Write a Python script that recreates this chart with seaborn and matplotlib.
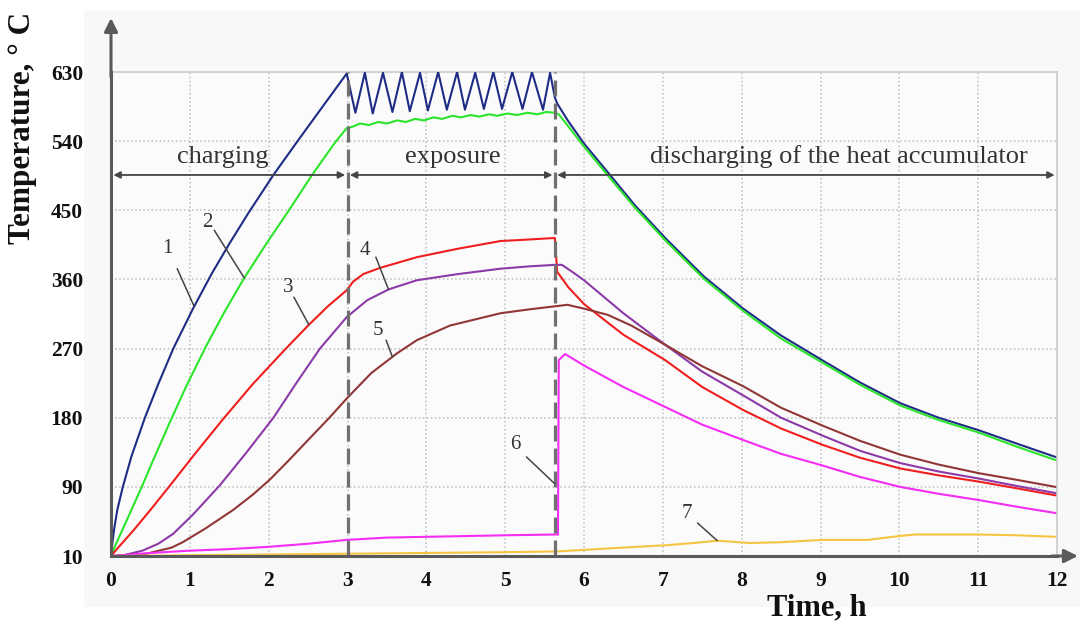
import numpy as np
import pandas as pd
import matplotlib
matplotlib.use('Agg')
import matplotlib.pyplot as plt
from matplotlib.patches import Rectangle
import seaborn as sns

# ── Data ──────────────────────────────────────────────
x_ticks = list(range(0, 13))
y_tick_pos = [0, 90, 180, 270, 360, 450, 540, 630]
y_tick_labels = ['10', '90', '180', '270', '360', '450', '540', '630']

phase_edges = [0, 3, 5.63, 12]
phase_names = ['charging', 'exposure', 'discharging of the heat accumulator']
phase_text_x = [1.42, 4.34, 9.23]

t1 = [0, 0.015, 0.04, 0.08, 0.15, 0.26, 0.43, 0.6, 0.79, 1.04, 1.28, 1.51, 1.74, 2.06, 2.38,
      2.72, 2.99,
      3.10, 3.22, 3.32, 3.45, 3.57, 3.69, 3.79, 3.92, 4.02, 4.15, 4.26, 4.39, 4.49, 4.62,
      4.73, 4.85, 4.96, 5.09, 5.22, 5.34, 5.48, 5.57, 5.63, 5.66, 5.8, 6.0, 6.33, 6.65,
      7.03, 7.52, 8.02, 8.5, 9.02, 9.5, 10.01, 10.5, 11.0, 11.5, 11.98]
T1 = [0, 15, 35, 60, 90, 130, 180, 224, 270, 322, 368, 408, 446, 496, 542,
      590, 628,
      577, 629, 576, 629, 578, 630, 579, 629, 580, 630, 581, 630, 581, 629,
      582, 630, 582, 630, 582, 630, 581, 629, 597, 589, 566, 537, 496, 456,
      414, 364, 322, 287, 255, 226, 199, 180, 164, 146, 129]

t2 = [0, 0.06, 0.18, 0.39, 0.54, 0.75, 0.95, 1.2, 1.43, 1.69, 1.98, 2.27, 2.55, 2.84, 2.99,
      3.07, 3.16, 3.27, 3.39, 3.5, 3.63, 3.74, 3.86, 3.97, 4.09, 4.2, 4.33, 4.44, 4.56,
      4.67, 4.8, 4.9, 5.03, 5.15, 5.28, 5.41, 5.52, 5.63, 5.68, 6.0, 6.33, 6.65, 7.03,
      7.52, 8.02, 8.5, 9.02, 9.5, 10.01, 10.5, 11.0, 11.5, 11.98]
T2 = [0, 15, 42, 90, 126, 175, 220, 272, 316, 362, 408, 452, 496, 538, 557,
      559, 563, 561, 565, 563, 567, 565, 569, 567, 571, 569, 573, 571, 574,
      572, 575, 573, 576, 574, 577, 575, 578, 577, 575, 533, 492, 453, 411,
      361, 319, 283, 252, 223, 196, 177, 161, 142, 125]

t3 = [0, 0.1, 0.29, 0.5, 0.75, 1.08, 1.42, 1.8, 2.2, 2.5, 2.75, 2.99, 3.07, 3.2, 3.41, 3.88,
      4.4, 4.94, 5.3, 5.63, 5.66, 5.8, 6.0, 6.5, 7.03, 7.5, 8.02, 8.5, 9.02, 9.5, 10.01,
      10.5, 11.0, 11.5, 11.98]
T3 = [0, 12, 34, 60, 92, 135, 178, 224, 268, 300, 325, 346, 357, 367, 375, 389,
      400, 410, 412, 414, 370, 350, 328, 288, 255, 220, 190, 166, 145, 128, 114,
      105, 97, 88, 79]

t4 = [0, 0.12, 0.4, 0.6, 0.79, 1.04, 1.38, 1.72, 2.06, 2.35, 2.65, 2.99, 3.25, 3.52, 3.88,
      4.4, 4.94, 5.3, 5.63, 5.72, 5.85, 6.0, 6.5, 7.03, 7.5, 8.02, 8.5, 9.02, 9.5, 10.01,
      10.5, 11.0, 11.5, 11.98]
T4 = [0, 0, 7, 16, 29, 54, 92, 135, 180, 225, 270, 311, 333, 347, 359,
      367, 374, 377, 379, 379, 370, 359, 316, 275, 240, 209, 180, 157, 137, 121,
      110, 101, 91, 82]

t5 = [0, 0.45, 0.77, 0.91, 1.2, 1.55, 1.8, 2.02, 2.25, 2.5, 2.77, 2.99, 3.3, 3.63, 3.88, 4.3,
      4.94, 5.3, 5.79, 6.0, 6.3, 6.6, 7.03, 7.5, 8.02, 8.5, 9.02, 9.5, 10.01, 10.5, 11.0,
      11.5, 11.98]
T5 = [0, 3, 11, 18, 36, 60, 80, 100, 124, 151, 180, 205, 238, 264, 281, 300,
      316, 321, 327, 322, 314, 300, 275, 247, 221, 193, 170, 150, 132, 119, 108,
      99, 90]

t6 = [0, 0.5, 1.0, 1.5, 2.0, 2.5, 2.99, 3.5, 4.0, 4.5, 5.0, 5.63, 5.67, 5.68, 5.76, 6.0,
      6.5, 7.03, 7.5, 8.02, 8.5, 9.02, 9.5, 10.01, 10.5, 11.0, 11.5, 11.98]
T6 = [0, 4, 7, 9, 12, 16, 21, 24, 25, 26, 27, 28, 28, 255, 263, 248,
      220, 194, 171, 151, 133, 118, 103, 90, 81, 73, 64, 56]

t7 = [0, 1, 2, 3, 4, 5, 5.66, 6.0, 6.5, 7.03, 7.4, 7.69, 8.1, 8.5, 9.02, 9.6, 10.0, 10.2,
      11.0, 11.5, 11.98]
T7 = [0, 1, 2, 3, 4, 5, 6, 8, 11, 14, 17, 20, 17, 18, 21, 21, 26, 28,
      28, 27, 25]

series = [
    ('1', t1, T1, '#1f2c86'),
    ('2', t2, T2, '#2be52b'),
    ('3', t3, T3, '#f01e1e'),
    ('4', t4, T4, '#8c3aa8'),
    ('5', t5, T5, '#913636'),
    ('6', t6, T6, '#f52cf5'),
    ('7', t7, T7, '#f5c542'),
]

# curve labels: (text, text_xy, leader_start, leader_end)
curve_labels = [
    ('1', (0.71, 400), (0.84, 374), (1.05, 326)),
    ('2', (1.22, 434), (1.31, 424), (1.69, 362)),
    ('3', (2.25, 350), (2.32, 337), (2.51, 301)),
    ('4', (3.22, 398), (3.36, 389), (3.52, 347)),
    ('5', (3.39, 294), (3.49, 281), (3.57, 259)),
    ('6', (5.13, 145), (5.27, 129), (5.63, 94)),
    ('7', (7.31, 56), (7.44, 43), (7.69, 20)),
]

# ── Style ─────────────────────────────────────────────
sns.set_style('white')
plt.rcParams['font.family'] = ['Liberation Serif', 'DejaVu Serif']

fig = plt.figure(figsize=(10.83, 6.28), dpi=100)
fig.patches.append(Rectangle((0.078, 0.033), 0.919, 0.951, transform=fig.transFigure,
                             facecolor='#f8f8f8', edgecolor='none', zorder=-10))
ax = fig.add_axes([111 / 1083, 0.1146, 946 / 1083, 0.7707])
ax.set_facecolor('#fbfbfb')

for name, t, T, col in series:
    df = pd.DataFrame({'t': t, 'T': T})
    sns.lineplot(data=df, x='t', y='T', ax=ax, color=col, lw=1.5,
                 estimator=None, sort=False, zorder=3, solid_joinstyle='round')

ax.set_xlim(0, 12)
ax.set_ylim(0, 630)
ax.set_xticks(x_ticks)
ax.set_xticklabels([str(v) for v in x_ticks])
ax.set_yticks(y_tick_pos)
ax.set_yticklabels(y_tick_labels)
ax.tick_params(axis='both', length=0, labelsize=15.5, colors='#111111')
ax.tick_params(axis='y', pad=20)
ax.tick_params(axis='x', pad=11)
for lab in ax.get_xticklabels() + ax.get_yticklabels():
    lab.set_fontweight('bold')
ax.set_xlabel('')
ax.set_ylabel('')

ax.grid(True, ls=':', color='#bdbdbd', lw=1.1)
ax.set_axisbelow(True)

for s in ['top', 'right']:
    ax.spines[s].set_color('#cfcfcf')
    ax.spines[s].set_linewidth(1.3)
for s in ['left', 'bottom']:
    ax.spines[s].set_color('#5a5a5a')
    ax.spines[s].set_linewidth(2.2)
    ax.spines[s].set_zorder(5)

# axis arrows
ax.annotate('', xy=(0, 704), xytext=(0, 620),
            arrowprops=dict(arrowstyle='-|>', color='#5a5a5a', lw=2.2, mutation_scale=20),
            annotation_clip=False)
ax.annotate('', xy=(12.3, 0), xytext=(11.9, 0),
            arrowprops=dict(arrowstyle='-|>', color='#5a5a5a', lw=2.2, mutation_scale=20),
            annotation_clip=False)

# phase boundaries and arrows
for xb in phase_edges[1:-1]:
    ax.plot([xb, xb], [0, 630], color='#707070', lw=2.3, dashes=(5, 2.2), zorder=4)
for a, b, name, tx in zip(phase_edges[:-1], phase_edges[1:], phase_names, phase_text_x):
    ax.annotate('', xy=(b - 0.03, 496), xytext=(a + 0.03, 496),
                arrowprops=dict(arrowstyle='<|-|>', color='#444444', lw=1.3,
                                mutation_scale=10, shrinkA=0, shrinkB=0), zorder=4)
    ax.text(tx, 505, name, ha='center', va='bottom', fontsize=19,
            color='#333333', zorder=4)

# curve numbers with leader lines
for name, txy, p0, p1 in curve_labels:
    ax.plot([p0[0], p1[0]], [p0[1], p1[1]], color='#444444', lw=1.1, zorder=4)
    ax.text(txy[0], txy[1], name, ha='center', va='center', fontsize=15,
            color='#333333', zorder=4)

fig.text(23 / 1083, 1 - 128 / 628, 'Temperature, ° C', rotation=90, ha='center',
         va='center', fontsize=22.5, fontweight='bold', color='#111111')
fig.text(817 / 1083, 1 - 608 / 628, 'Time, h', ha='center', va='center',
         fontsize=22, fontweight='bold', color='#111111')

fig.savefig('out.png', dpi=100)
